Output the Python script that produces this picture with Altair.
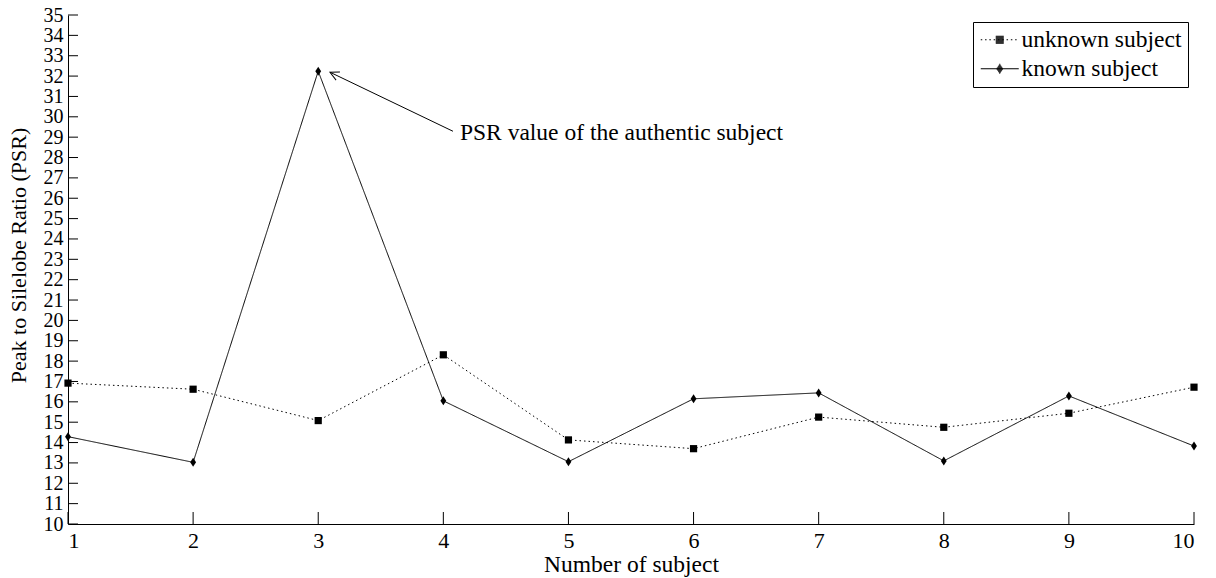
import altair as alt
import pandas as pd

subjects = [1, 2, 3, 4, 5, 6, 7, 8, 9, 10]
unknown_subject = [16.92, 16.62, 15.08, 18.31, 14.13, 13.70, 15.25, 14.75, 15.44, 16.72]
known_subject = [14.29, 13.03, 32.24, 16.05, 13.06, 16.15, 16.44, 13.10, 16.29, 13.83]
series_names = ["unknown subject", "known subject"]
x_ticks = list(range(1, 11))
y_ticks = list(range(10, 36))

# annotation (arrow tail near text, arrow tip near peak)
ann_text = ["PSR value of the authentic subject"]
ann_text_x = [4.133]
ann_text_y = [28.84]
arrow_tail_x = [4.077]
arrow_tail_y = [29.29]
arrow_tip_x = [3.094]
arrow_tip_y = [32.19]

FONT = "Liberation Serif"
W, H = 1126, 509
TEXT_SIZE = 23.5

rows = []
for s, vals in zip(series_names, [unknown_subject, known_subject]):
    for x, v in zip(subjects, vals):
        rows.append({"subject": x, "psr": v, "series": s})
df = pd.DataFrame(rows)

xscale = alt.Scale(domain=[1, 10], nice=False, zero=False)
yscale = alt.Scale(domain=[10, 35], nice=False, zero=False)

axis_style = dict(ticks=False, grid=False, labelOverlap=False, format="d",
                  labelFont=FONT, titleFont=FONT,
                  labelColor="black", titleColor="black", titleFontWeight="normal",
                  domainColor="black", domainWidth=1)
x_axis = alt.Axis(values=x_ticks, labelPadding=6, titlePadding=1, labelFontSize=22,
                  titleFontSize=TEXT_SIZE, **axis_style)
y_axis = alt.Axis(values=y_ticks, labelPadding=5, titlePadding=13, labelFontSize=20,
                  titleFontSize=22, titleY=240, **axis_style)
X_TITLE = "Number of subject"
Y_TITLE = "Peak to Silelobe Ratio (PSR)"


def X(field):
    return alt.X(field, scale=xscale, axis=x_axis, title=X_TITLE)


def Y(field):
    return alt.Y(field, scale=yscale, axis=y_axis, title=Y_TITLE)


dash_scale = alt.Scale(domain=series_names, range=[[1.5, 3], [1, 0]])

lines = alt.Chart(df).mark_line(color="black", strokeWidth=1).encode(
    x=X("subject:Q"), y=Y("psr:Q"),
    strokeDash=alt.StrokeDash("series:N", scale=dash_scale, legend=None),
    detail="series:N",
)

square_path = "M-0.8,-0.8H0.8V0.8H-0.8Z"
diamond_path = "M0,-1L0.65,0L0,1L-0.65,0Z"
points = alt.Chart(df).mark_point(filled=True, color="black", size=81, opacity=1).encode(
    x=X("subject:Q"), y=Y("psr:Q"),
    shape=alt.Shape("series:N", scale=alt.Scale(domain=series_names, range=[square_path, diamond_path]),
                    legend=None),
)


# legend glyphs drawn with strokes only (line sample + marker), unit = 10 px
def _fmt(v):
    return f"{v:.2f}"


def dotted_line(x0, x1, dot=0.15, period=0.43):
    parts = []
    x = x0
    while x < x1:
        parts.append(f"M{_fmt(x)},0H{_fmt(min(x + dot, x1))}")
        x += period
    return "".join(parts)


def square_glyph(cx, half):
    parts = []
    y = -half + 0.05
    while y < half:
        parts.append(f"M{_fmt(cx - half)},{_fmt(y)}H{_fmt(cx + half)}")
        y += 0.1
    return "".join(parts)


def diamond_glyph(cx, hw, hh):
    parts = []
    y = -hh + 0.05
    while y < hh:
        w = max(hw * (1 - abs(y) / hh), 0.05)
        parts.append(f"M{_fmt(cx - w)},{_fmt(y)}H{_fmt(cx + w)}")
        y += 0.1
    return "".join(parts)


leg_unknown = dotted_line(-1.0, 2.8) + square_glyph(0.9, 0.4)
leg_known = "M-1,0H2.8" + diamond_glyph(0.9, 0.34, 0.5)

legend_layer = alt.Chart(df).mark_point(filled=False, color="black", opacity=0, size=400,
                                        strokeWidth=1).encode(
    x=X("subject:Q"), y=Y("psr:Q"),
    shape=alt.Shape("series:N", scale=alt.Scale(domain=series_names, range=[leg_unknown, leg_known]),
                    legend=alt.Legend(title=None, orient="none", legendX=905, legendY=7,
                                      padding=6, strokeColor="black", fillColor="white",
                                      labelFont=FONT, labelFontSize=TEXT_SIZE, labelColor="black",
                                      labelOffset=19, rowPadding=4, labelLimit=0,
                                      symbolSize=400, symbolStrokeWidth=1,
                                      symbolStrokeColor="black", symbolOpacity=1)),
)

ytick_df = pd.DataFrame({"v": y_ticks})
xtick_df = pd.DataFrame({"v": x_ticks})
yticks = alt.Chart(ytick_df).mark_rule(color="black", strokeWidth=1).encode(
    y=Y("v:Q"), x=alt.value(0), x2=alt.value(10))
xticks = alt.Chart(xtick_df).mark_rule(color="black", strokeWidth=1).encode(
    x=X("v:Q"), y=alt.value(H - 12), y2=alt.value(H))

ann_df = pd.DataFrame({"text": ann_text, "tx": ann_text_x, "ty": ann_text_y,
                       "x0": arrow_tail_x, "y0": arrow_tail_y, "x1": arrow_tip_x, "y1": arrow_tip_y})
arrow_line = alt.Chart(ann_df).mark_rule(color="black", strokeWidth=1).encode(
    x=X("x0:Q"), y=Y("y0:Q"), x2="x1:Q", y2="y1:Q")
arrow_head = alt.Chart(ann_df).mark_point(shape="M1,-0.5L0,0L1,0.5", filled=False, color="black",
                                          strokeWidth=1, size=317, angle=25.6, opacity=1).encode(
    x=X("x1:Q"), y=Y("y1:Q"))
ann_label = alt.Chart(ann_df).mark_text(align="left", baseline="alphabetic", font=FONT,
                                        fontSize=TEXT_SIZE, color="black").encode(
    x=X("tx:Q"), y=Y("ty:Q"), text="text:N")

chart = alt.layer(lines, points, legend_layer, yticks, xticks, arrow_line, arrow_head, ann_label).resolve_scale(
    shape="independent"
).properties(
    width=W, height=H,
    autosize=alt.AutoSizeParams(type="none"),
    padding={"left": 68, "top": 15, "right": 22, "bottom": 54},
    background="white",
).configure_view(stroke=None)

chart.save("out.html", embed_options={"renderer": "svg", "actions": False})
